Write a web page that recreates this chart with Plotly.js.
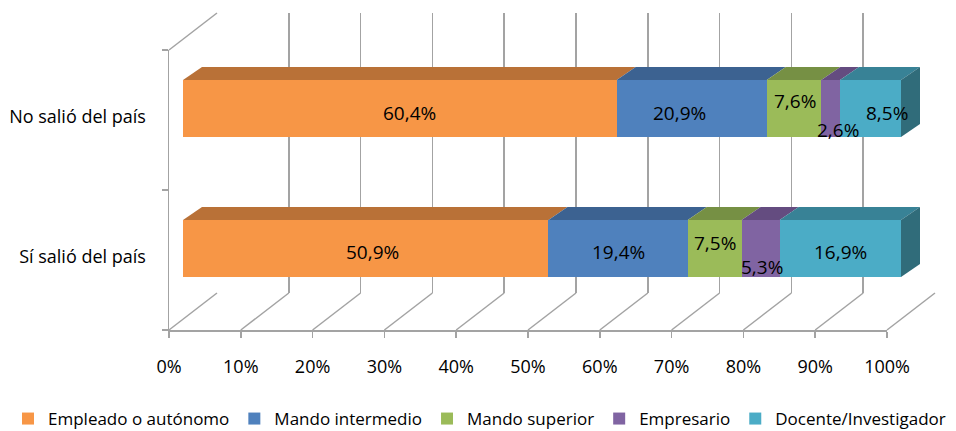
<!DOCTYPE html>
<html><head><meta charset="utf-8">
<script src="https://cdn.plot.ly/plotly-3.0.1.min.js"></script>
<style>html,body{margin:0;padding:0;background:#fff}</style>
</head><body><div id="chart" style="width:956px;height:431px"></div>
<script>
// ---------- data ----------
const categories = ["Sí salió del país", "No salió del país"];
const seriesNames = ["Empleado o autónomo", "Mando intermedio", "Mando superior", "Empresario", "Docente/Investigador"];
const empleado = [50.9, 60.4];
const mandoIntermedio = [19.4, 20.9];
const mandoSuperior = [7.5, 7.6];
const empresario = [5.3, 2.6];
const docente = [16.9, 8.5];
const tickValues = [0, 10, 20, 30, 40, 50, 60, 70, 80, 90, 100];
const tickLabels = ["0%", "10%", "20%", "30%", "40%", "50%", "60%", "70%", "80%", "90%", "100%"];

// ---------- styles ----------
const frontColors = ['#F79646', '#4F81BD', '#9BBB59', '#8064A2', '#4BACC6'];
const topColors = ['#B97137', '#3C6291', '#769044', '#644C80', '#388296'];
const sideColor = '#306C7A';
const gridColor = '#a3a3a3';
const FONT = 'Open Sans, sans-serif';
// label offsets in px, [row][series] = [dx, dy(up)]
const labelShifts = [
  [[7, -3], [0, -3], [0, 6], [1, -18], [0, -3]],
  [[10, -4], [-12, -4], [1, 8], [7, -21], [17, -4]]
];

const W = 956, H = 431;
const fx = p => p / W;
const fy = p => 1 - p / H;
// pixel frames
const BACK = {x0: 217, x1: 935, yTop: 13, yBot: 293};
const FRONT = {x0: 169, x1: 887, yTop: 50, yBot: 330};
const BARS = {x0: 183, x1full: 901, x1dom: 935, yTop: 38.5, yBot: 318.5};
const depthPx = {dx: 19, dy: 13};
const barWidth = 57 / 140;

const series = [empleado, mandoIntermedio, mandoSuperior, empresario, docente];
const rowIdx = categories.map((c, i) => i);
const pxPerX = (BARS.x1full - BARS.x0) / 100;
const pxPerY = (BARS.yBot - BARS.yTop) / 2;
const ddx = depthPx.dx / pxPerX, ddy = depthPx.dy / pxPerY;

const traces = [];
traces.push({type: 'scatter', x: [0], y: [0], xaxis: 'x', yaxis: 'y', mode: 'markers',
  marker: {opacity: 0}, showlegend: false, hoverinfo: 'skip'});
traces.push({type: 'scatter', x: [0, 0], y: categories, xaxis: 'x2', yaxis: 'y2', mode: 'markers',
  marker: {opacity: 0}, showlegend: false, hoverinfo: 'skip'});
series.forEach((vals, j) => {
  traces.push({type: 'bar', orientation: 'h', name: seriesNames[j], x: vals, y: rowIdx,
    xaxis: 'x3', yaxis: 'y3', width: barWidth,
    marker: {color: frontColors[j], line: {width: 0}}, hoverinfo: 'skip'});
});

const shapes = [];
const annotations = [];
// floor diagonals
const frontX = t => fx(FRONT.x0 + t / 100 * (FRONT.x1 - FRONT.x0));
const backX = t => fx(BACK.x0 + t / 100 * (BACK.x1 - BACK.x0));
tickValues.forEach(t => {
  shapes.push({type: 'line', xref: 'paper', yref: 'paper', layer: 'below',
    x0: frontX(t), y0: fy(FRONT.yBot), x1: backX(t), y1: fy(BACK.yBot),
    line: {color: gridColor, width: 1.5}});
});
shapes.push({type: 'line', xref: 'paper', yref: 'paper', layer: 'below',
  x0: frontX(0), y0: fy(FRONT.yTop), x1: backX(0), y1: fy(BACK.yTop),
  line: {color: gridColor, width: 1.5}});

// 3D top faces, right side face, labels
rowIdx.forEach(i => {
  let cum = 0;
  const yt = i + barWidth / 2, yb = i - barWidth / 2;
  series.forEach((vals, j) => {
    const v = vals[i];
    const a = cum, b = cum + v;
    shapes.push({type: 'path', xref: 'x3', yref: 'y3', layer: 'above',
      path: `M${a},${yt} L${b},${yt} L${b + ddx},${yt + ddy} L${a + ddx},${yt + ddy} Z`,
      fillcolor: topColors[j], line: {width: 0}});
    annotations.push({xref: 'x3', yref: 'y3', x: (a + b) / 2, y: i, showarrow: false,
      text: v.toFixed(1).replace('.', ',') + '%',
      xshift: labelShifts[i][j][0], yshift: labelShifts[i][j][1],
      font: {family: FONT, size: 19, color: '#000'}});
    cum = b;
  });
  shapes.push({type: 'path', xref: 'x3', yref: 'y3', layer: 'above',
    path: `M${cum},${yt} L${cum + ddx},${yt + ddy} L${cum + ddx},${yb + ddy} L${cum},${yb} Z`,
    fillcolor: sideColor, line: {width: 0}});
});

const layout = {
  width: W, height: H, margin: {l: 0, r: 0, t: 0, b: 0, autoexpand: false},
  paper_bgcolor: '#fff', plot_bgcolor: 'rgba(0,0,0,0)',
  font: {family: FONT, size: 18, color: '#000'},
  barmode: 'stack', bargap: 0,
  xaxis: {domain: [fx(BACK.x0), fx(BACK.x1)], range: [0, 100], anchor: 'y',
    showgrid: true, gridcolor: gridColor, gridwidth: 1.5, tickvals: tickValues,
    showticklabels: false, ticks: '', zeroline: false, showline: false, fixedrange: true},
  yaxis: {domain: [fy(BACK.yBot), fy(BACK.yTop)], range: [0, 1], anchor: 'x',
    showgrid: false, showticklabels: false, ticks: '', zeroline: false, showline: false, fixedrange: true},
  xaxis2: {domain: [frontX(0), frontX(100)], range: [0, 100], anchor: 'y2',
    tickvals: tickValues, ticktext: tickLabels, ticks: 'outside', ticklen: 6,
    tickcolor: gridColor, tickwidth: 1.5, showline: true, linecolor: gridColor, linewidth: 1.5,
    showgrid: false, zeroline: false, ticklabelstandoff: 14, automargin: false,
    tickfont: {family: FONT, size: 18, color: '#000'}, fixedrange: true},
  yaxis2: {domain: [fy(FRONT.yBot), fy(FRONT.yTop)], anchor: 'x2', type: 'category',
    categoryorder: 'array', categoryarray: categories, range: [-0.5, 1.5],
    tickson: 'boundaries', ticks: 'outside', ticklen: 6, tickcolor: gridColor, tickwidth: 1.5,
    showline: true, linecolor: gridColor, linewidth: 1.5, showgrid: false, zeroline: false,
    ticklabelstandoff: 18, ticklabelshift: -3, automargin: false,
    tickfont: {family: FONT, size: 18, color: '#000'}, fixedrange: true},
  xaxis3: {domain: [fx(BARS.x0), fx(BARS.x1dom)], anchor: 'y3',
    range: [0, 100 * (BARS.x1dom - BARS.x0) / (BARS.x1full - BARS.x0)], visible: false, fixedrange: true},
  yaxis3: {domain: [fy(BARS.yBot), fy(BARS.yTop)], anchor: 'x3', range: [-0.5, 1.5],
    visible: false, fixedrange: true},
  showlegend: true,
  legend: {orientation: 'h', x: fx(8), xanchor: 'left', y: fy(419), yanchor: 'middle',
    font: {family: FONT, size: 17, color: '#000'}, bgcolor: 'rgba(0,0,0,0)', traceorder: 'normal'},
  shapes: shapes, annotations: annotations
};

Plotly.newPlot('chart', traces, layout, {displayModeBar: false, staticPlot: true});
</script></body></html>
